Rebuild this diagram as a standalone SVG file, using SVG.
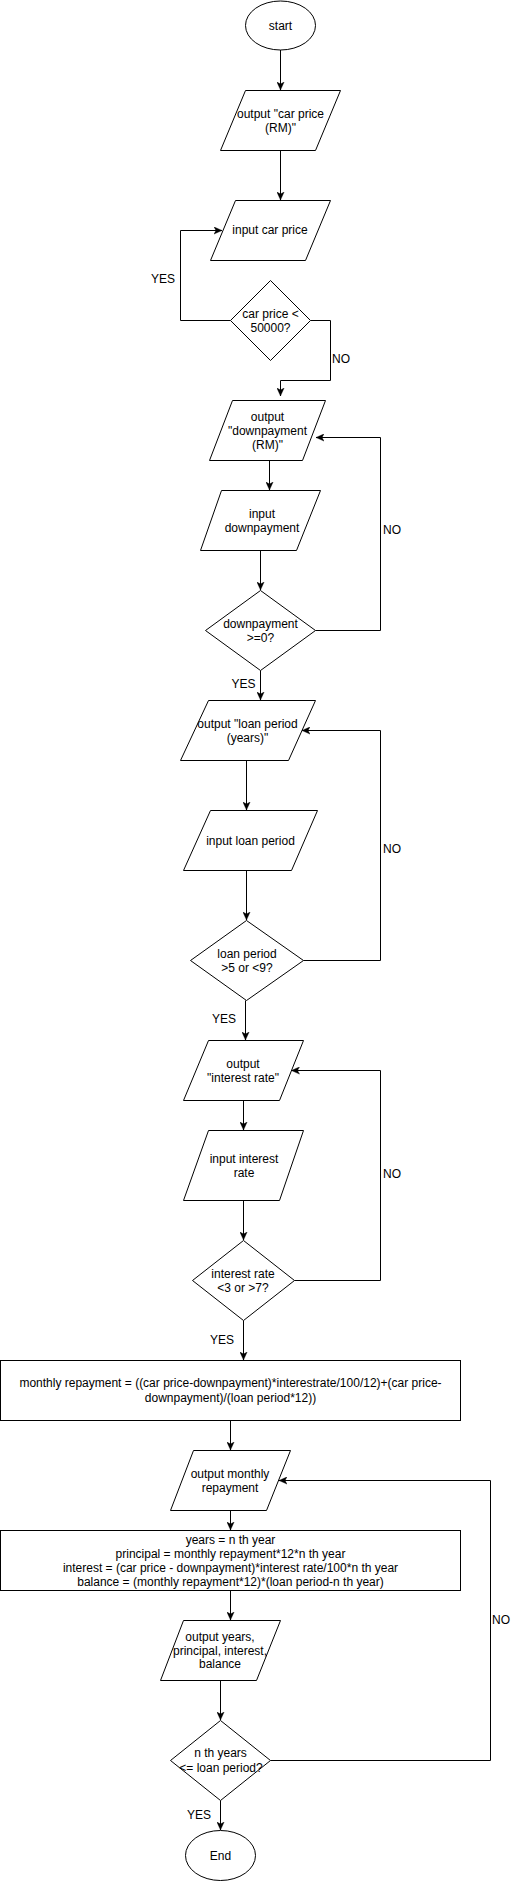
<svg xmlns="http://www.w3.org/2000/svg" width="522" height="1881" viewBox="0 0 522 1881">
<style>
.s{fill:#fff;stroke:#000;stroke-width:1}
.t{font-family:"Liberation Sans",Arial,sans-serif;font-size:12px;fill:#000;text-anchor:middle}
.l{font-family:"Liberation Sans",Arial,sans-serif;font-size:12px;fill:#000}
.e{fill:none;stroke:#000;stroke-width:1;marker-end:url(#a)}
</style>
<defs>
<marker id="a" viewBox="0 0 10 10" refX="10" refY="5" markerWidth="8" markerHeight="8" markerUnits="userSpaceOnUse" orient="auto">
<path d="M0,0.5 L10,5 L0,9.5 L2.5,5 z" fill="#000" stroke="#000" stroke-width="0.5"/>
</marker>
</defs>
<rect width="522" height="1881" fill="#fff"/>
<g id="edges">
<path class="e" d="M280.5,50 V90"/>
<path class="e" d="M280.5,150.5 V200"/>
<path class="e" d="M230.5,320.5 H180.5 V230.5 H222"/>
<path class="e" d="M310.5,320.5 H330.5 V380.5 H280.5 V396"/>
<path class="e" d="M269.5,460.5 V490"/>
<path class="e" d="M260.5,550.5 V590"/>
<path class="e" d="M315.5,630.5 H380.5 V437.5 H316"/>
<path class="e" d="M260.5,670.5 V700"/>
<path class="e" d="M246.5,760.5 V810"/>
<path class="e" d="M246.5,870.5 V920"/>
<path class="e" d="M303.5,960.5 H380.5 V730.5 H302"/>
<path class="e" d="M245.5,1000.5 V1040"/>
<path class="e" d="M243.5,1100.5 V1130"/>
<path class="e" d="M243.5,1200.5 V1240"/>
<path class="e" d="M294.5,1280.5 H380.5 V1070.5 H291.5"/>
<path class="e" d="M243.5,1320.5 V1360"/>
<path class="e" d="M230.5,1420.5 V1450"/>
<path class="e" d="M230.5,1510.5 V1530"/>
<path class="e" d="M230.5,1590.5 V1620"/>
<path class="e" d="M220.5,1680.5 V1720"/>
<path class="e" d="M270.5,1760.5 H490.5 V1480.5 H279"/>
<path class="e" d="M220.5,1800.5 V1830"/>
<text class="t" x="163" y="283">YES</text>
<text class="l" x="332" y="363">NO</text>
<text class="l" x="383" y="534">NO</text>
<text class="t" x="243.5" y="688">YES</text>
<text class="l" x="383" y="853">NO</text>
<text class="t" x="224" y="1023">YES</text>
<text class="l" x="383" y="1178">NO</text>
<text class="t" x="222" y="1344">YES</text>
<text class="l" x="492" y="1624">NO</text>
<text class="t" x="199" y="1819">YES</text>
</g>
<g id="start">
<ellipse class="s" cx="280.5" cy="25.5" rx="35" ry="24.5"/>
<text class="t" x="280.5" y="29.5">start</text>
</g>
<g id="out_car_price">
<polygon class="s" points="245.5,90.5 340.5,90.5 315.5,150.5 220.5,150.5"/>
<text class="t" x="280.5" y="118">output "car price</text>
<text class="t" x="280.5" y="132">(RM)"</text>
</g>
<g id="in_car_price">
<polygon class="s" points="235.5,200.5 330.5,200.5 305.5,260.5 210.5,260.5"/>
<text class="t" x="270" y="234">input car price</text>
</g>
<g id="dec_car_price">
<polygon class="s" points="270.5,280.5 310.5,320.5 270.5,360.5 230.5,320.5"/>
<text class="t" x="270.5" y="318">car price &lt;</text>
<text class="t" x="270.5" y="332">50000?</text>
</g>
<g id="out_downpayment">
<polygon class="s" points="232.5,400.5 325.5,400.5 302.5,460.5 209.5,460.5"/>
<text class="t" x="267.5" y="420.5">output</text>
<text class="t" x="267.5" y="435">"downpayment</text>
<text class="t" x="267.5" y="449">(RM)"</text>
</g>
<g id="in_downpayment">
<polygon class="s" points="221.5,490.5 320.5,490.5 296.5,550.5 200.5,550.5"/>
<text class="t" x="262" y="517.5">input</text>
<text class="t" x="262" y="531.5">downpayment</text>
</g>
<g id="dec_downpayment">
<polygon class="s" points="260.5,590.5 315.5,630.5 260.5,670.5 205.5,630.5"/>
<text class="t" x="260.5" y="628">downpayment</text>
<text class="t" x="260.5" y="642">&gt;=0?</text>
</g>
<g id="out_loan_period">
<polygon class="s" points="208.5,700.5 315.5,700.5 288.5,760.5 180.5,760.5"/>
<text class="t" x="247.5" y="727.5">output "loan period</text>
<text class="t" x="247.5" y="741.5">(years)"</text>
</g>
<g id="in_loan_period">
<polygon class="s" points="210.5,810.5 317.5,810.5 291.5,870.5 183.5,870.5"/>
<text class="t" x="250.5" y="844.5">input loan period</text>
</g>
<g id="dec_loan_period">
<polygon class="s" points="246.5,920.5 303.5,960.5 246.5,1000.5 190.5,960.5"/>
<text class="t" x="247" y="957.5">loan period</text>
<text class="t" x="247" y="971.5">&gt;5 or &lt;9?</text>
</g>
<g id="out_interest_rate">
<polygon class="s" points="208.5,1040.5 303.5,1040.5 279.5,1100.5 183.5,1100.5"/>
<text class="t" x="243" y="1067.5">output</text>
<text class="t" x="243" y="1081.5">"interest rate"</text>
</g>
<g id="in_interest_rate">
<polygon class="s" points="208.5,1130.5 303.5,1130.5 279.5,1200.5 183.5,1200.5"/>
<text class="t" x="244" y="1162.5">input interest</text>
<text class="t" x="244" y="1176.5">rate</text>
</g>
<g id="dec_interest_rate">
<polygon class="s" points="243.5,1240.5 294.5,1280.5 243.5,1320.5 192.5,1280.5"/>
<text class="t" x="243" y="1277.5">interest rate</text>
<text class="t" x="243" y="1291.5">&lt;3 or &gt;7?</text>
</g>
<g id="calc_monthly">
<rect class="s" x="0.5" y="1360.5" width="460" height="60"/>
<text class="t" x="230.5" y="1387.3">monthly repayment = ((car price-downpayment)*interestrate/100/12)+(car price-</text>
<text class="t" x="230.5" y="1402">downpayment)/(loan period*12))</text>
</g>
<g id="out_monthly">
<polygon class="s" points="193.5,1450.5 290.5,1450.5 266.5,1510.5 170.5,1510.5"/>
<text class="t" x="230" y="1478">output monthly</text>
<text class="t" x="230" y="1492">repayment</text>
</g>
<g id="calc_years">
<rect class="s" x="0.5" y="1530.5" width="460" height="60"/>
<text class="t" x="230.5" y="1544">years = n th year</text>
<text class="t" x="230.5" y="1558">principal = monthly repayment*12*n th year</text>
<text class="t" x="230.5" y="1572">interest = (car price - downpayment)*interest rate/100*n th year</text>
<text class="t" x="230.5" y="1586">balance = (monthly repayment*12)*(loan period-n th year)</text>
</g>
<g id="out_years">
<polygon class="s" points="183.5,1620.5 280.5,1620.5 256.5,1680.5 160.5,1680.5"/>
<text class="t" x="220" y="1641">output years,</text>
<text class="t" x="220" y="1654.7">principal, interest,</text>
<text class="t" x="220" y="1668.3">balance</text>
</g>
<g id="dec_years">
<polygon class="s" points="220.5,1720.5 270.5,1760.5 220.5,1800.5 170.5,1760.5"/>
<text class="t" x="220.5" y="1757.3">n th years</text>
<text class="t" x="221" y="1771.7">&lt;= loan period?</text>
</g>
<g id="end">
<ellipse class="s" cx="220.5" cy="1855.5" rx="35" ry="25"/>
<text class="t" x="220.5" y="1859.5">End</text>
</g>
</svg>
